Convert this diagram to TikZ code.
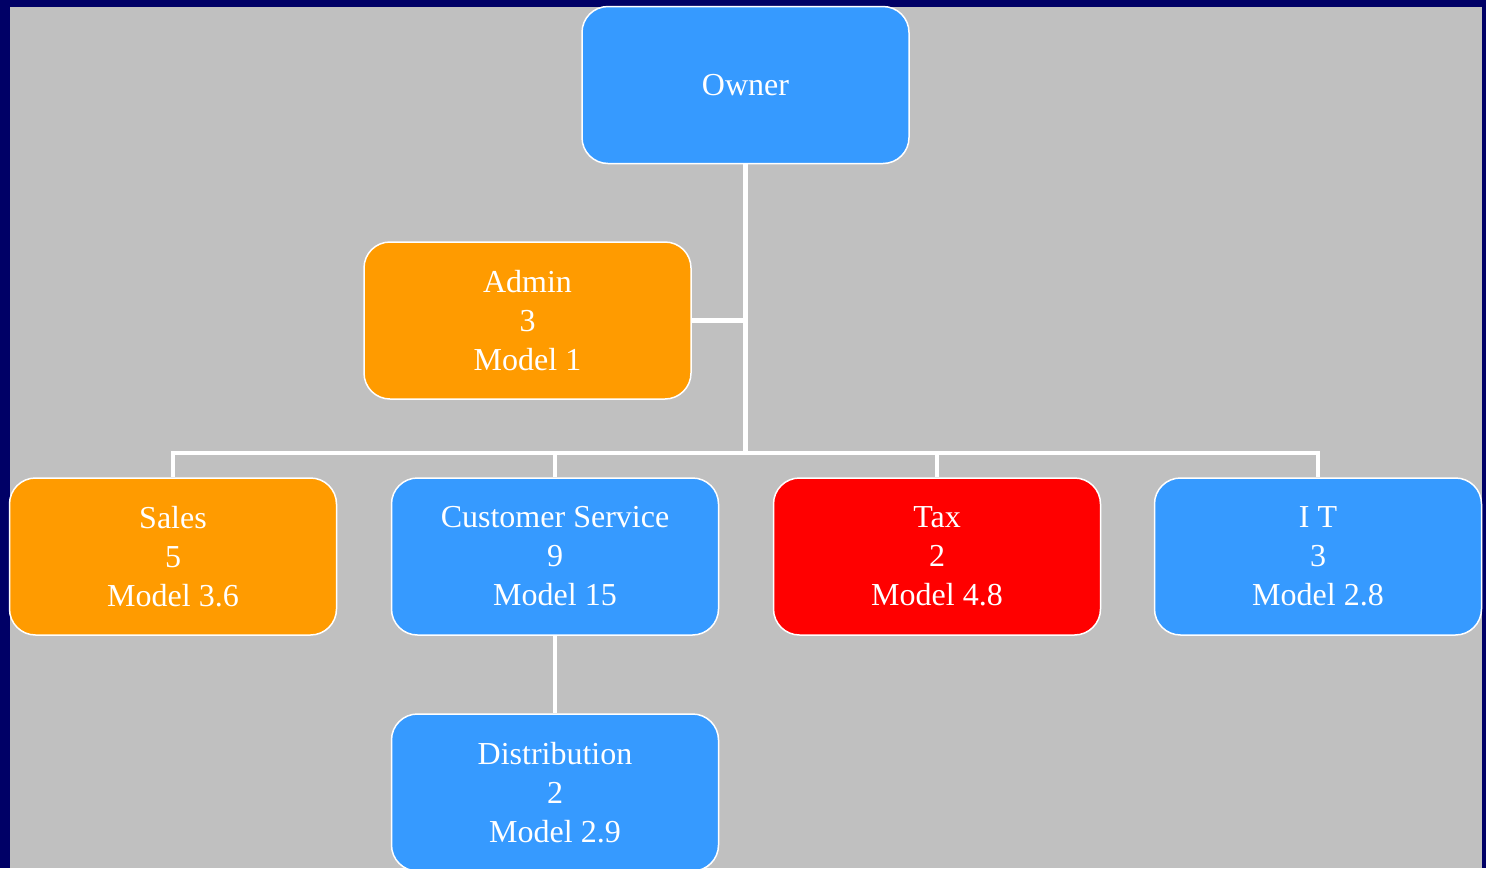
\documentclass[tikz,border=0pt]{standalone}
\usepackage{fontspec}
\setmainfont{Liberation Serif}
\usepackage{tikz}
\usetikzlibrary{calc}

\definecolor{frame}{RGB}{0,0,102}
\definecolor{paper}{RGB}{192,192,192}
\definecolor{deptblue}{RGB}{54,154,255}
\definecolor{deptorange}{RGB}{255,155,0}
\definecolor{deptred}{RGB}{255,0,0}

\tikzset{
  dept/.style={draw=white, line width=1.5pt, rounded corners=26pt,
    minimum width=327pt, minimum height=157pt, inner sep=0pt,
    align=center, text=white, font=\fontsize{32}{39}\selectfont},
  link/.style={draw=white, line width=4.5pt}
}

\begin{document}
\begin{tikzpicture}[x=1pt, y=-1pt]
        \useasboundingbox (0,0) rectangle (1486,868);
        \fill[frame] (0,0) rectangle (1486,868);
        \fill[paper] (10,7) rectangle (1482,868);

        \coordinate (bus) at (745,453);

        \node[dept, fill=deptblue] (owner) at (745.5,85) {Owner};
        \node[dept, fill=deptorange] (admin) at (527.5,320.5) {Admin\\3\\Model 1};
        \node[dept, fill=deptorange] (sales) at (173,556.5) {Sales\\5\\Model 3.6};
        \node[dept, fill=deptblue] (cs) at (555,556.5) {Customer Service\\9\\Model 15};
        \node[dept, fill=deptred] (tax) at (937,556.5) {Tax\\2\\Model 4.8};
        \node[dept, fill=deptblue] (it) at (1318,556.5) {I T\\3\\Model 2.8};
        \node[dept, fill=deptblue] (dist) at (555,792.5) {Distribution\\2\\Model 2.9};

        \draw[link] (owner.south) -- (owner.south |- bus);
        \draw[link] (admin.east) -- (admin.east -| owner.south);
        \draw[link] (sales.north) |- (bus) -| (it.north);
        \draw[link] (cs.north) -- (cs.north |- bus);
        \draw[link] (tax.north) -- (tax.north |- bus);
        \draw[link] (cs.south) -- (dist.north);
    \end{tikzpicture}
\end{document}
